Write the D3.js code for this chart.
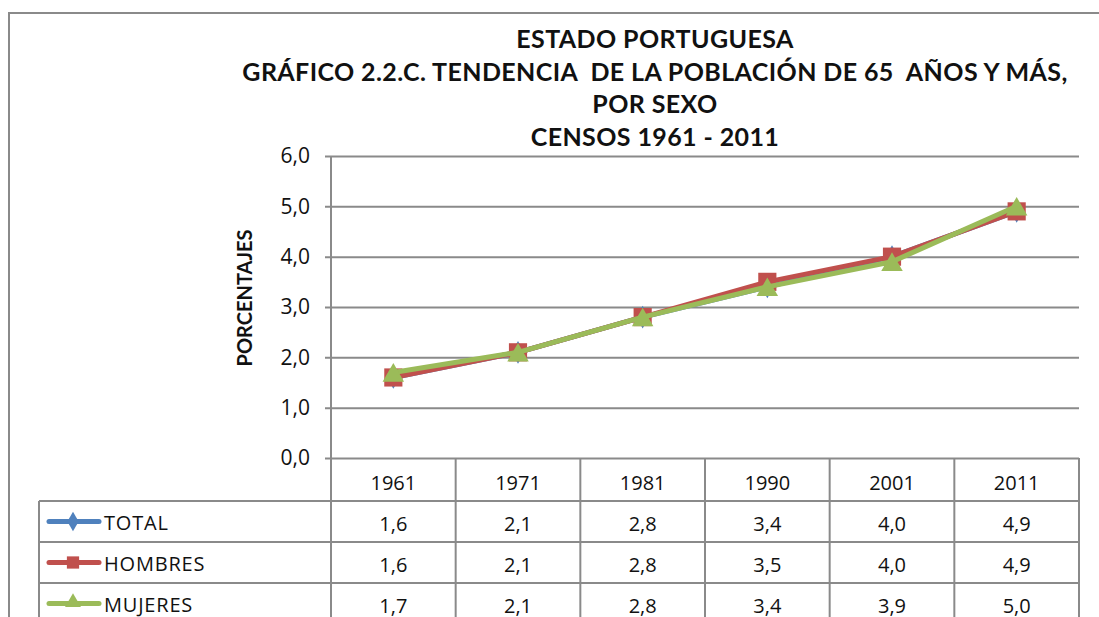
<!DOCTYPE html>
<html lang="es">
<head>
<meta charset="utf-8">
<title>Estado Portuguesa</title>
<script src="https://d3js.org/d3.v7.min.js"></script>
<style>
  body { margin: 0; background: #fff; }
  svg text { font-family: "Open Sans", Lato, sans-serif; fill: #111; }
  .title { font-family: Lato, sans-serif; font-weight: bold; font-size: 25px; letter-spacing: 0.4px; }
</style>
</head>
<body>
<div id="chart"></div>
<script>
// datos
var years = ["1961", "1971", "1981", "1990", "2001", "2011"];
var seriesNames = ["TOTAL", "HOMBRES", "MUJERES"];
var total   = [1.6, 2.1, 2.8, 3.4, 4.0, 4.9];
var hombres = [1.6, 2.1, 2.8, 3.5, 4.0, 4.9];
var mujeres = [1.7, 2.1, 2.8, 3.4, 3.9, 5.0];
var yTicks = [0, 1, 2, 3, 4, 5, 6];
var titleLines = ["ESTADO PORTUGUESA",
  "GRÁFICO 2.2.C. TENDENCIA  DE LA POBLACIÓN DE 65  AÑOS Y MÁS,",
  "POR SEXO",
  "CENSOS 1961 - 2011"];

var series = [
  {name: seriesNames[0], values: total, color: "#4F81BD", marker: "diamond"},
  {name: seriesNames[1], values: hombres, color: "#C0504D", marker: "square"},
  {name: seriesNames[2], values: mujeres, color: "#9BBB59", marker: "triangle"}
];

var W = 1099, H = 617;
var grid = "#8a8a8a";
var fmt = function(v) { return d3.format(".1f")(v).replace(".", ","); };

var svg = d3.select("#chart").append("svg")
  .attr("width", W).attr("height", H);

// marco del gráfico
svg.append("rect")
  .attr("x", 9).attr("y", 13).attr("width", W + 20).attr("height", H + 20)
  .attr("fill", "none").attr("stroke", grid).attr("stroke-width", 2);

// titulo
var titleY = [48, 81, 113, 146];
svg.selectAll(".title").data(titleLines).enter().append("text")
  .attr("class", "title")
  .attr("x", 655).attr("y", function(d, i) { return titleY[i]; })
  .attr("text-anchor", "middle")
  .style("white-space", "pre")
  .text(function(d) { return d; });

var plotLeft = 331, plotRight = 1079, plotTop = 156, plotBottom = 458;

var x = d3.scaleBand().domain(years).range([plotLeft, plotRight]);
var y = d3.scaleLinear().domain([0, 6]).range([plotBottom, plotTop]);

// grid + eje y
var yAxis = d3.axisLeft(y).tickValues(yTicks)
  .tickSizeInner(-(plotRight - plotLeft)).tickSizeOuter(0)
  .tickFormat(fmt);
var gy = svg.append("g")
  .attr("transform", "translate(" + plotLeft + ",0)")
  .call(yAxis);
gy.select(".domain").remove();
gy.selectAll(".tick line")
  .attr("x1", -6)
  .attr("stroke", grid).attr("stroke-width", 2);
gy.selectAll(".tick text")
  .attr("x", -21)
  .style("font-size", "21px").style("font-family", "\"Open Sans\", sans-serif").attr("fill", "#111");

// eje vertical
svg.append("line")
  .attr("x1", plotLeft).attr("x2", plotLeft)
  .attr("y1", plotTop).attr("y2", H)
  .attr("stroke", grid).attr("stroke-width", 2);

svg.append("text")
  .attr("transform", "translate(252,298) rotate(-90)")
  .attr("text-anchor", "middle")
  .style("font-family", "Lato, sans-serif")
  .style("font-weight", "bold").style("font-size", "20px")
  .text("PORCENTAJES");

// tabla de datos
var rowTop = [458, 501, 542, 583];
var rowH = 41;
var tableLeft = 39;

svg.selectAll(".hline").data(rowTop.slice(1)).enter().append("line")
  .attr("x1", tableLeft).attr("x2", plotRight)
  .attr("y1", function(d) { return d; }).attr("y2", function(d) { return d; })
  .attr("stroke", grid).attr("stroke-width", 2);

var colEdges = years.map(function(d) { return x(d) + x.bandwidth(); });
svg.selectAll(".vline").data(colEdges).enter().append("line")
  .attr("x1", function(d) { return d; }).attr("x2", function(d) { return d; })
  .attr("y1", plotBottom).attr("y2", H)
  .attr("stroke", grid).attr("stroke-width", 2);

svg.append("line")
  .attr("x1", tableLeft).attr("x2", tableLeft)
  .attr("y1", rowTop[1]).attr("y2", H)
  .attr("stroke", grid).attr("stroke-width", 2);

svg.selectAll(".year").data(years).enter().append("text")
  .attr("x", function(d) { return x(d) + x.bandwidth() / 2; })
  .attr("y", rowTop[0] + 32)
  .attr("text-anchor", "middle")
  .style("font-size", "20px")
  .text(function(d) { return d; });

function markerPath(type, size) {
  var sym = type === "diamond" ? d3.symbolDiamond : type === "square" ? d3.symbolSquare : d3.symbolTriangle;
  return d3.symbol().type(sym).size(size)();
}

series.forEach(function(s, i) {
  var top = rowTop[i + 1];
  var cy = top + rowH / 2;
  // leyenda
  svg.append("line")
    .attr("x1", 49).attr("x2", 99).attr("y1", cy).attr("y2", cy)
    .attr("stroke", s.color).attr("stroke-width", 5).attr("stroke-linecap", "round");
  svg.append("path")
    .attr("d", markerPath(s.marker, s.marker === "square" ? 150 : 110))
    .attr("transform", "translate(73," + (s.marker === "triangle" ? cy - 1 : cy) + ")")
    .attr("fill", s.color);
  svg.append("text")
    .attr("x", 104).attr("y", cy + 8)
    .style("font-size", "20px").style("letter-spacing", "0.8px")
    .text(s.name);
  // valores
  svg.selectAll(".val" + i).data(s.values).enter().append("text")
    .attr("x", function(d, j) { return x(years[j]) + x.bandwidth() / 2; })
    .attr("y", cy + 9)
    .attr("text-anchor", "middle")
    .style("font-size", "20px")
    .text(function(d) { return fmt(d); });
});

// lineas
var line = d3.line()
  .x(function(d, j) { return x(years[j]) + x.bandwidth() / 2; })
  .y(function(d) { return y(d); });

series.forEach(function(s) {
  var g = svg.append("g");
  g.append("path")
    .datum(s.values)
    .attr("d", line)
    .attr("fill", "none").attr("stroke", s.color)
    .attr("stroke-width", 5).attr("stroke-linejoin", "round");
  g.selectAll("path.m").data(s.values).enter().append("path")
    .attr("class", "m")
    .attr("d", markerPath(s.marker, s.marker === "triangle" ? 200 : s.marker === "square" ? 330 : 150))
    .attr("transform", function(d, j) {
      var dy = s.marker === "triangle" ? 3 : 0;
      return "translate(" + (x(years[j]) + x.bandwidth() / 2) + "," + (y(d) + dy) + ")";
    })
    .attr("fill", s.color);
});
</script>
</body>
</html>
